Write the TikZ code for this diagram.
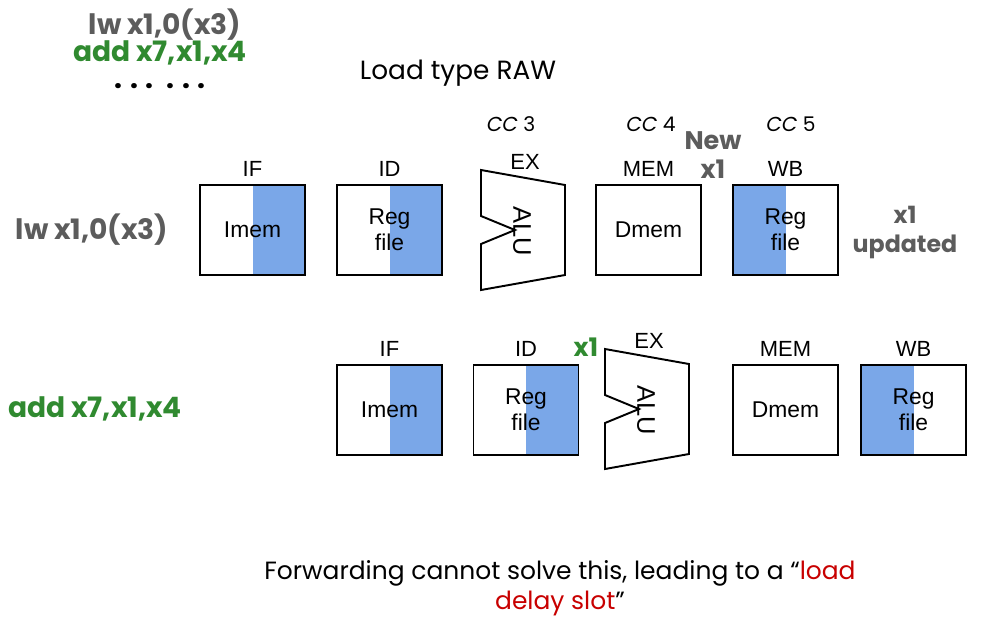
\documentclass[tikz,border=0pt]{standalone}
\usepackage{fontspec}
\setmainfont{Liberation Sans}
\newfontfamily\comicfont{Poppins}
\usetikzlibrary{positioning}
\definecolor{regblue}{RGB}{122,167,232}
\definecolor{instgray}{RGB}{92,92,92}
\definecolor{instgreen}{RGB}{48,138,48}
\definecolor{slotred}{RGB}{200,0,0}

\begin{document}
\begin{tikzpicture}[
    x=0.02cm, y=-0.02cm,
    unitbox/.style={draw=black, line width=1.1pt, minimum width=2.1cm, minimum height=1.8cm, inner sep=0pt, align=center, font=\fontsize{13}{15}\selectfont},
    readhalf/.style={unitbox, path picture={\fill[regblue] (path picture bounding box.north) rectangle (path picture bounding box.south east);}},
    writehalf/.style={unitbox, path picture={\fill[regblue] (path picture bounding box.north west) rectangle (path picture bounding box.south);}},
    stagelabel/.style={inner sep=0pt, font=\fontsize{12.5}{14}\selectfont},
    aluline/.style={line width=1.1pt, line join=miter},
    cclabel/.style={font=\comicfont\fontsize{11.5}{14}\selectfont},
    grayinst/.style={text=instgray, font=\comicfont\bfseries\fontsize{13.5}{16}\selectfont, align=center},
    greeninst/.style={text=instgreen, font=\comicfont\bfseries\fontsize{13.5}{16}\selectfont, align=center},
    codeline/.style={font=\comicfont\bfseries\fontsize{16}{18}\selectfont},
    remark/.style={font=\comicfont\fontsize{14.2}{17}\selectfont, align=center}
]
\useasboundingbox (0,0) rectangle (994,637);

% code snippet and title
\node[codeline, text=instgray] (code1) at (165,25) {lw x1,0(x3)};
\node[codeline, text=instgreen] (code2) at (160,53) {add x7,x1,x4};
\node[codeline] (code3) at (160,86) {. . .\hspace{7pt}. . .};
\node[remark, font=\comicfont\fontsize{15}{17}\selectfont] (title) at (458,73) {Load type RAW};

% clock cycles
\node[cclabel] (cc3) at (511,124) {\textit{CC} 3};
\node[cclabel] (cc4) at (651,124) {\textit{CC} 4};
\node[cclabel] (cc5) at (791,124) {\textit{CC} 5};

% first instruction: lw
\node[codeline, text=instgray] (lwinst) at (92,230) {lw x1,0(x3)};
\node[readhalf] (if1) at (252.5,230) {Imem};
\node[readhalf] (id1) at (389.5,230) {Reg\\file};
\node[unitbox] (mem1) at (648.5,230) {Dmem};
\node[writehalf] (wb1) at (785.5,230) {Reg\\file};
\coordinate (alu1) at (481,170);
\draw[aluline] (alu1) -- ++(84,15) -- ++(0,90) -- ++(-84,15) -- ++(0,-46) -- ++(34,-14) -- ++(-34,-14) -- cycle;
\node[stagelabel, rotate=-90, font=\fontsize{14.5}{16}\selectfont] (alutext1) at (522,231) {ALU};

\node[stagelabel, above=4pt of if1] (if1lab) {IF};
\node[stagelabel, above=4pt of id1] (id1lab) {ID};
\node[stagelabel] (ex1lab) at (525,162) {EX};
\node[stagelabel, above=4pt of mem1] (mem1lab) {MEM};
\node[stagelabel, above=4pt of wb1] (wb1lab) {WB};

\node[grayinst, font=\comicfont\bfseries\fontsize{14.5}{17}\selectfont] (newx1) at (713,155) {New\\x1};
\node[grayinst, font=\comicfont\bfseries\fontsize{13.5}{16.5}\selectfont] (updx1) at (905,232) {x1\\updated};

% second instruction: add
\node[codeline, text=instgreen] (addinst) at (95,409) {add x7,x1,x4};
\node[readhalf] (if2) at (389.5,410) {Imem};
\node[readhalf] (id2) at (526,410) {Reg\\file};
\node[unitbox] (mem2) at (785.5,410) {Dmem};
\node[writehalf] (wb2) at (913.5,410) {Reg\\file};
\coordinate (alu2) at (605,349);
\draw[aluline] (alu2) -- ++(84,15) -- ++(0,90) -- ++(-84,15) -- ++(0,-46) -- ++(34,-14) -- ++(-34,-14) -- cycle;
\node[stagelabel, rotate=-90, font=\fontsize{14.5}{16}\selectfont] (alutext2) at (646,410) {ALU};

\node[stagelabel, above=4pt of if2] (if2lab) {IF};
\node[stagelabel, above=4pt of id2] (id2lab) {ID};
\node[stagelabel] (ex2lab) at (649,341) {EX};
\node[stagelabel, above=4pt of mem2] (mem2lab) {MEM};
\node[stagelabel, above=4pt of wb2] (wb2lab) {WB};
\node[greeninst, font=\comicfont\bfseries\fontsize{14.5}{16}\selectfont] (fwdx1) at (586,347) {x1};

% conclusion
\node[remark] (note) at (560,588) {Forwarding cannot solve this, leading to a “\textcolor{slotred}{load}\\\textcolor{slotred}{delay slot}”};

\end{tikzpicture}
\end{document}
